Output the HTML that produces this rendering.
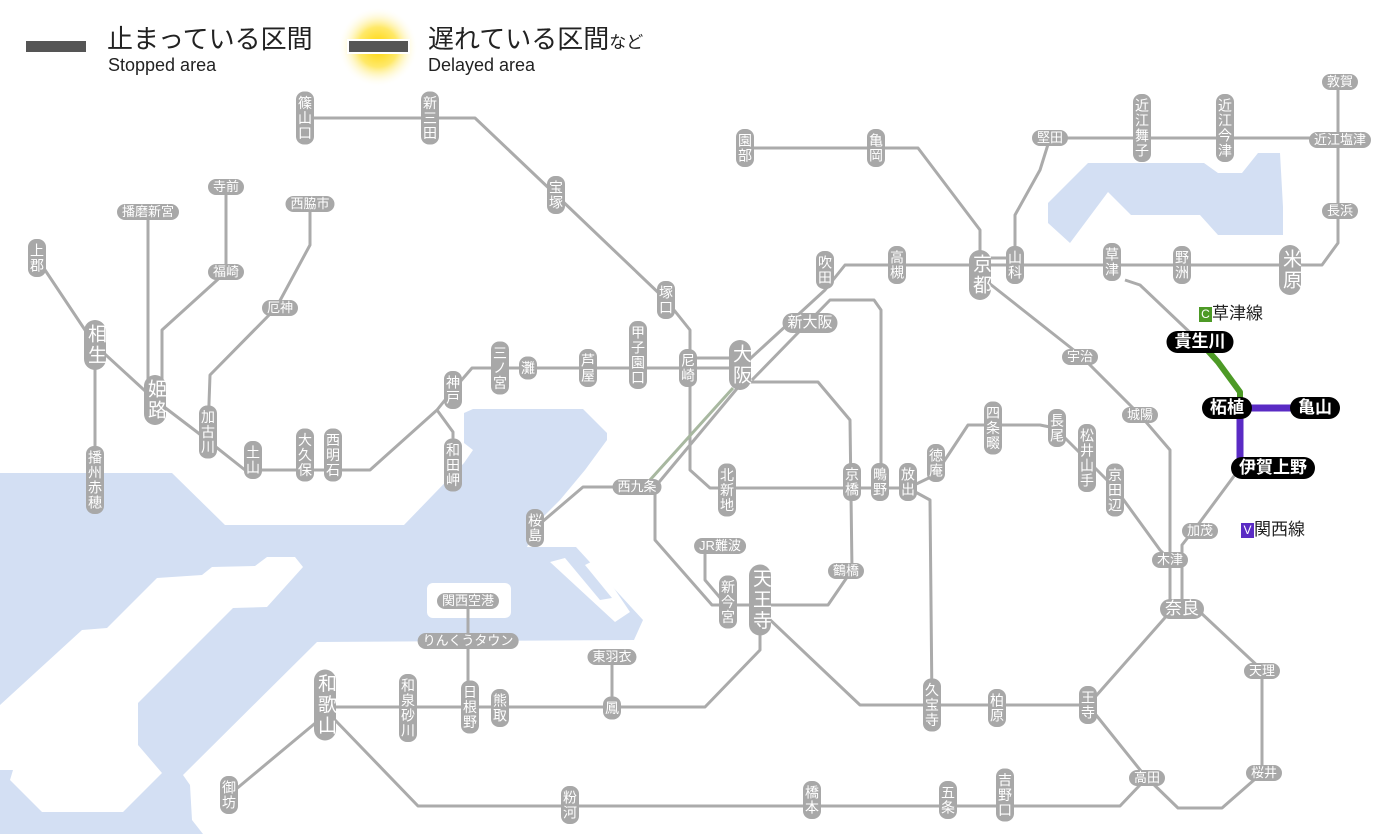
<!DOCTYPE html>
<html><head><meta charset="utf-8">
<style>
body{margin:0;width:1400px;height:834px;overflow:hidden;background:#fff;position:relative;font-family:"Liberation Sans","Noto Sans CJK JP",sans-serif}
svg{position:absolute;left:0;top:0}
.s{position:absolute;transform:translate(-50%,-50%);background:#a8a8a8;color:#fff;font-size:13px;line-height:14px;border-radius:8px;white-space:nowrap;text-align:center;font-family:"Liberation Sans","Noto Sans CJK JP",sans-serif}
.v{writing-mode:vertical-rl;width:18px;line-height:18px;padding:4px 0;font-size:14px;letter-spacing:1px}
.h{height:16px;line-height:16px;padding:0 5px}
.v.b{font-size:19px;width:22px;line-height:22px;border-radius:11px;letter-spacing:2px}
.h.b{font-size:17px;height:20px;line-height:20px;border-radius:10px}
.k{position:absolute;transform:translate(-50%,-50%);background:#000;color:#fff;font-size:17px;font-weight:bold;height:22px;line-height:22px;padding:0 8px;border-radius:11px;white-space:nowrap}
.t{position:absolute;white-space:nowrap;color:#222}
</style></head><body>
<svg width="1400" height="834" viewBox="0 0 1400 834">
<defs><radialGradient id="g"><stop offset="0" stop-color="#ffd400"/><stop offset="0.5" stop-color="#ffe96a"/><stop offset="1" stop-color="#fff" stop-opacity="0"/></radialGradient></defs>
<g fill="#d3dff3">
<polygon points="0,473 172,473 225,525 404,525 464,463 473,450 464,443 464,413 473,409 583,409 607,433 607,440 585,470 560,500 540,520 527,547 576,547 643,620 634,640 317,642 183,775 190,785 192,820 203,834 0,834"/>
<polygon points="1048,203 1088,163 1204,163 1218,173 1242,173 1258,153 1280,153 1283,207 1283,235 1218,235 1200,215 1131,215 1108,192 1070,243 1048,223"/>
</g>
<g fill="#fff">
<polygon points="0,705 82,630 107,628 157,578 202,575 212,567 255,566 267,557 295,557 303,567 267,607 233,608 138,703 138,745 162,773 123,812 42,812 10,780 13,770 0,770"/>
<rect x="427" y="583" width="84" height="35" rx="6"/>
<polygon points="550,562 565,558 600,600 612,598 585,565 595,560 630,612 615,622"/>
</g>
<rect x="26" y="41" width="60" height="11" fill="#555"/>
<circle cx="378" cy="47" r="40" fill="url(#g)"/>
<rect x="347" y="39" width="63" height="15" fill="#fff"/>
<rect x="349" y="41" width="59" height="11" fill="#555"/>
<g fill="none" stroke="#ababab" stroke-width="3" stroke-linejoin="round">
<polyline points="305,118 475,118 556,195 666,300 690,330 690,470 710,488 908,488"/>
<polyline points="37,258 95,345 155,400 197,432 245,470 370,470 437,410 453,390 472,368 740,368"/>
<polyline points="690,358 740,358"/>
<polyline points="437,410 453,432 453,465"/>
<polyline points="95,345 95,480"/>
<polyline points="148,212 148,400"/>
<polyline points="226,187 226,272 162,330 162,400"/>
<polyline points="310,204 310,245 276,308 210,375 208,432"/>
<polyline points="740,368 825,290 845,265 1322,265 1338,243 1338,82"/>
<polyline points="752,380 830,300 874,300 881,310 881,488"/>
<polyline points="1015,265 1015,215 1040,170 1050,138 1340,138"/>
<polyline points="745,148 918,148 980,230 980,265"/>
<polyline points="980,258 1015,258"/>
<polyline points="985,280 1080,355 1140,415 1170,450 1170,612"/>
<polyline points="1125,280 1140,285 1200,342"/>
<polyline points="1240,468 1200,522 1182,545 1182,612"/>
<polyline points="745,382 818,382 850,420 852,570 828,605 712,605 655,540 655,487 740,385"/>
<polyline points="650,480 733,388" stroke="#a8b8a0"/>
<polyline points="637,487 583,487 535,528"/>
<polyline points="705,546 705,580 722,600"/>
<polyline points="760,605 760,650 705,707 325,707"/>
<polyline points="612,657 612,707"/>
<polyline points="468,601 468,707"/>
<polyline points="765,615 860,705 1088,705 1170,612"/>
<polyline points="908,488 930,500 932,705"/>
<polyline points="335,720 418,806 1120,806 1140,785 1145,776 1088,705"/>
<polyline points="1145,776 1178,808 1222,808 1262,773 1262,670 1200,612"/>
<polyline points="325,715 229,795"/>
<polyline points="908,488 935,475 968,425 1040,425 1055,428 1087,460 1115,488 1160,550 1170,560"/>
</g>
<polyline points="1200,342 1218,362 1240,392 1240,408" fill="none" stroke="#4d9a26" stroke-width="6" stroke-linejoin="round"/>
<polyline points="1240,408 1315,408" fill="none" stroke="#5a2bc4" stroke-width="7"/>
<polyline points="1240,408 1240,468" fill="none" stroke="#5a2bc4" stroke-width="7"/>
</svg>

<div class="t" style="left:107px;top:24px;font-size:26px;line-height:30px">止まっている区間</div>
<div class="t" style="left:108px;top:55px;font-size:18px;line-height:20px">Stopped area</div>
<div class="t" style="left:428px;top:24px;font-size:26px;line-height:30px">遅れている区間<span style="font-size:17px">など</span></div>
<div class="t" style="left:428px;top:55px;font-size:18px;line-height:20px">Delayed area</div>

<div class="s v" style="left:305px;top:118px">篠山口</div>
<div class="s v" style="left:430px;top:118px">新三田</div>
<div class="s v" style="left:556px;top:195px">宝塚</div>
<div class="s v" style="left:666px;top:300px">塚口</div>
<div class="s v" style="left:638px;top:355px">甲子園口</div>
<div class="s v" style="left:588px;top:368px">芦屋</div>
<div class="s v" style="left:528px;top:368px">灘</div>
<div class="s v" style="left:500px;top:368px">三ノ宮</div>
<div class="s v" style="left:453px;top:390px">神戸</div>
<div class="s v" style="left:453px;top:465px">和田岬</div>
<div class="s v" style="left:688px;top:368px">尼崎</div>
<div class="s v b" style="left:740px;top:365px">大阪</div>
<div class="s v" style="left:37px;top:258px">上郡</div>
<div class="s v b" style="left:95px;top:345px">相生</div>
<div class="s v" style="left:95px;top:480px">播州赤穂</div>
<div class="s v b" style="left:155px;top:400px">姫路</div>
<div class="s v" style="left:208px;top:432px">加古川</div>
<div class="s v" style="left:253px;top:460px">土山</div>
<div class="s v" style="left:305px;top:455px">大久保</div>
<div class="s v" style="left:333px;top:455px">西明石</div>
<div class="s h" style="left:148px;top:212px">播磨新宮</div>
<div class="s h" style="left:226px;top:187px">寺前</div>
<div class="s h" style="left:226px;top:272px">福崎</div>
<div class="s h" style="left:310px;top:204px">西脇市</div>
<div class="s h" style="left:280px;top:308px">厄神</div>
<div class="s v" style="left:745px;top:148px">園部</div>
<div class="s v" style="left:876px;top:148px">亀岡</div>
<div class="s v" style="left:825px;top:270px">吹田</div>
<div class="s v" style="left:897px;top:265px">高槻</div>
<div class="s v b" style="left:980px;top:275px">京都</div>
<div class="s v" style="left:1015px;top:265px">山科</div>
<div class="s v" style="left:1112px;top:262px">草津</div>
<div class="s v" style="left:1182px;top:265px">野洲</div>
<div class="s v b" style="left:1290px;top:270px">米原</div>
<div class="s h" style="left:1050px;top:138px">堅田</div>
<div class="s v" style="left:1142px;top:128px">近江舞子</div>
<div class="s v" style="left:1225px;top:128px">近江今津</div>
<div class="s h" style="left:1340px;top:140px">近江塩津</div>
<div class="s h" style="left:1340px;top:82px">敦賀</div>
<div class="s h" style="left:1340px;top:211px">長浜</div>
<div class="s h b" style="left:810px;top:323px;font-size:15px">新大阪</div>
<div class="s h" style="left:1080px;top:357px">宇治</div>
<div class="s h" style="left:1140px;top:415px">城陽</div>
<div class="k" style="left:1200px;top:342px">貴生川</div>
<div class="k" style="left:1227px;top:408px">柘植</div>
<div class="k" style="left:1315px;top:408px">亀山</div>
<div class="k" style="left:1273px;top:468px">伊賀上野</div>
<div class="t" style="left:1199px;top:305px;font-size:17px;line-height:18px"><span style="display:inline-block;width:13px;height:15px;background:#4d9a26;color:#fff;font-size:12px;line-height:15px;text-align:center;vertical-align:1px">C</span>草津線</div>
<div class="t" style="left:1241px;top:521px;font-size:17px;line-height:18px"><span style="display:inline-block;width:13px;height:15px;background:#5a2bc4;color:#fff;font-size:12px;line-height:15px;text-align:center;vertical-align:1px">V</span>関西線</div>
<div class="s v" style="left:727px;top:490px">北新地</div>
<div class="s v" style="left:852px;top:482px">京橋</div>
<div class="s v" style="left:880px;top:482px">鴫野</div>
<div class="s v" style="left:908px;top:482px">放出</div>
<div class="s v" style="left:936px;top:463px">徳庵</div>
<div class="s v" style="left:993px;top:428px">四条畷</div>
<div class="s v" style="left:1057px;top:428px">長尾</div>
<div class="s v" style="left:1087px;top:458px">松井山手</div>
<div class="s v" style="left:1115px;top:490px">京田辺</div>
<div class="s h" style="left:637px;top:487px">西九条</div>
<div class="s v" style="left:535px;top:528px">桜島</div>
<div class="s h" style="left:720px;top:546px">JR難波</div>
<div class="s v" style="left:728px;top:602px">新今宮</div>
<div class="s v b" style="left:760px;top:600px">天王寺</div>
<div class="s h" style="left:846px;top:571px">鶴橋</div>
<div class="s h" style="left:1200px;top:531px">加茂</div>
<div class="s h" style="left:1170px;top:560px">木津</div>
<div class="s h b" style="left:1182px;top:609px">奈良</div>
<div class="s h" style="left:1262px;top:671px">天理</div>
<div class="s h" style="left:1264px;top:773px">桜井</div>
<div class="s h" style="left:1147px;top:778px">高田</div>
<div class="s v" style="left:1088px;top:705px">王寺</div>
<div class="s v" style="left:997px;top:708px">柏原</div>
<div class="s v" style="left:932px;top:705px">久宝寺</div>
<div class="s v" style="left:1005px;top:795px">吉野口</div>
<div class="s v" style="left:948px;top:800px">五条</div>
<div class="s v" style="left:812px;top:800px">橋本</div>
<div class="s v" style="left:570px;top:805px">粉河</div>
<div class="s v" style="left:229px;top:795px">御坊</div>
<div class="s v b" style="left:325px;top:705px">和歌山</div>
<div class="s v" style="left:408px;top:708px">和泉砂川</div>
<div class="s v" style="left:470px;top:707px">日根野</div>
<div class="s v" style="left:500px;top:708px">熊取</div>
<div class="s v" style="left:612px;top:708px">鳳</div>
<div class="s h" style="left:612px;top:657px">東羽衣</div>
<div class="s h" style="left:468px;top:641px">りんくうタウン</div>
<div class="s h" style="left:468px;top:601px">関西空港</div>
</body></html>
